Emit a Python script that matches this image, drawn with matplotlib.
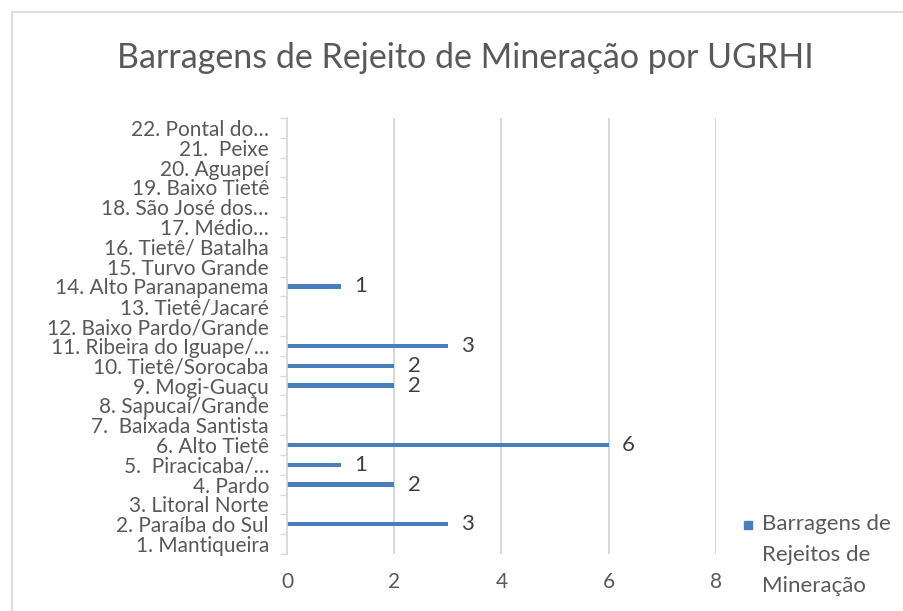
import matplotlib.pyplot as plt
from matplotlib.patches import Rectangle
import numpy as np

plt.rcParams['font.family'] = ['Lato', 'DejaVu Sans']

categorias = ["1. Mantiqueira", "2. Paraíba do Sul", "3. Litoral Norte", "4. Pardo",
              "5.  Piracicaba/…", "6. Alto Tietê", "7.  Baixada Santista",
              "8. Sapucaí/Grande", "9. Mogi-Guaçu", "10. Tietê/Sorocaba",
              "11. Ribeira do Iguape/…", "12. Baixo Pardo/Grande", "13. Tietê/Jacaré",
              "14. Alto Paranapanema", "15. Turvo Grande", "16. Tietê/ Batalha",
              "17. Médio…", "18. São José dos…", "19. Baixo Tietê", "20. Aguapeí",
              "21.  Peixe", "22. Pontal do…"]
barragens = [0, 3, 0, 2, 1, 6, 0, 0, 2, 2, 3, 0, 0, 1, 0, 0, 0, 0, 0, 0, 0, 0]
xticks = [0, 2, 4, 6, 8]

azul = '#4a7ebb'
cinza_txt = '#595959'
cinza_linha = '#d9d9d9'

fig = plt.figure(figsize=(9.04, 6.11), dpi=100)
fig.patches.append(Rectangle((12/904, -0.1), 1.1, 1 - 12/611 + 0.1, transform=fig.transFigure,
                             fill=False, edgecolor=cinza_linha, linewidth=1.2))

ax = fig.add_axes([287/904, 1 - 554/611, (716-287)/904, (554-118)/611])
y = np.arange(len(categorias))
ax.barh(y, barragens, height=0.22, color=azul, zorder=3)
for yi, v in zip(y, barragens):
    if v > 0:
        ax.text(v + 0.37, yi, str(v), va='center', ha='center', fontsize=16, color='#404040')

ax.set_xlim(0, 8)
ax.set_ylim(-0.5, len(categorias) - 0.5)
ax.set_xticks(xticks)
ax.set_xticklabels([str(t) for t in xticks], fontsize=15, color=cinza_txt)
ax.set_yticks(y)
ax.set_yticklabels(categorias, fontsize=15, color=cinza_txt)
ax.set_yticks(np.arange(-0.5, len(categorias), 1), minor=True)
ax.tick_params(axis='y', which='major', length=0, pad=13)
ax.tick_params(axis='y', which='minor', length=5, color=cinza_linha, width=1)
ax.tick_params(axis='x', length=0, pad=13)
ax.grid(axis='x', color=cinza_linha, linewidth=1.5, zorder=0)
for s in ['top', 'right', 'bottom']:
    ax.spines[s].set_visible(False)
ax.spines['left'].set_color(cinza_linha)
ax.spines['left'].set_linewidth(1.2)
ax.spines['left'].set_zorder(4)

fig.text(465/904, 1 - 58/611, "Barragens de Rejeito de Mineração por UGRHI",
         ha='center', va='center', fontsize=24.5, color=cinza_txt)

fig.patches.append(Rectangle((744/904, 1 - 529/611), 8/904, 8/611, transform=fig.transFigure,
                             color=azul))
fig.text(762/904, 1 - 514/611, "Barragens de\nRejeitos de\nMineração", ha='left', va='top',
         fontsize=16, color=cinza_txt, linespacing=1.68)

fig.savefig('out.png', dpi=100)
